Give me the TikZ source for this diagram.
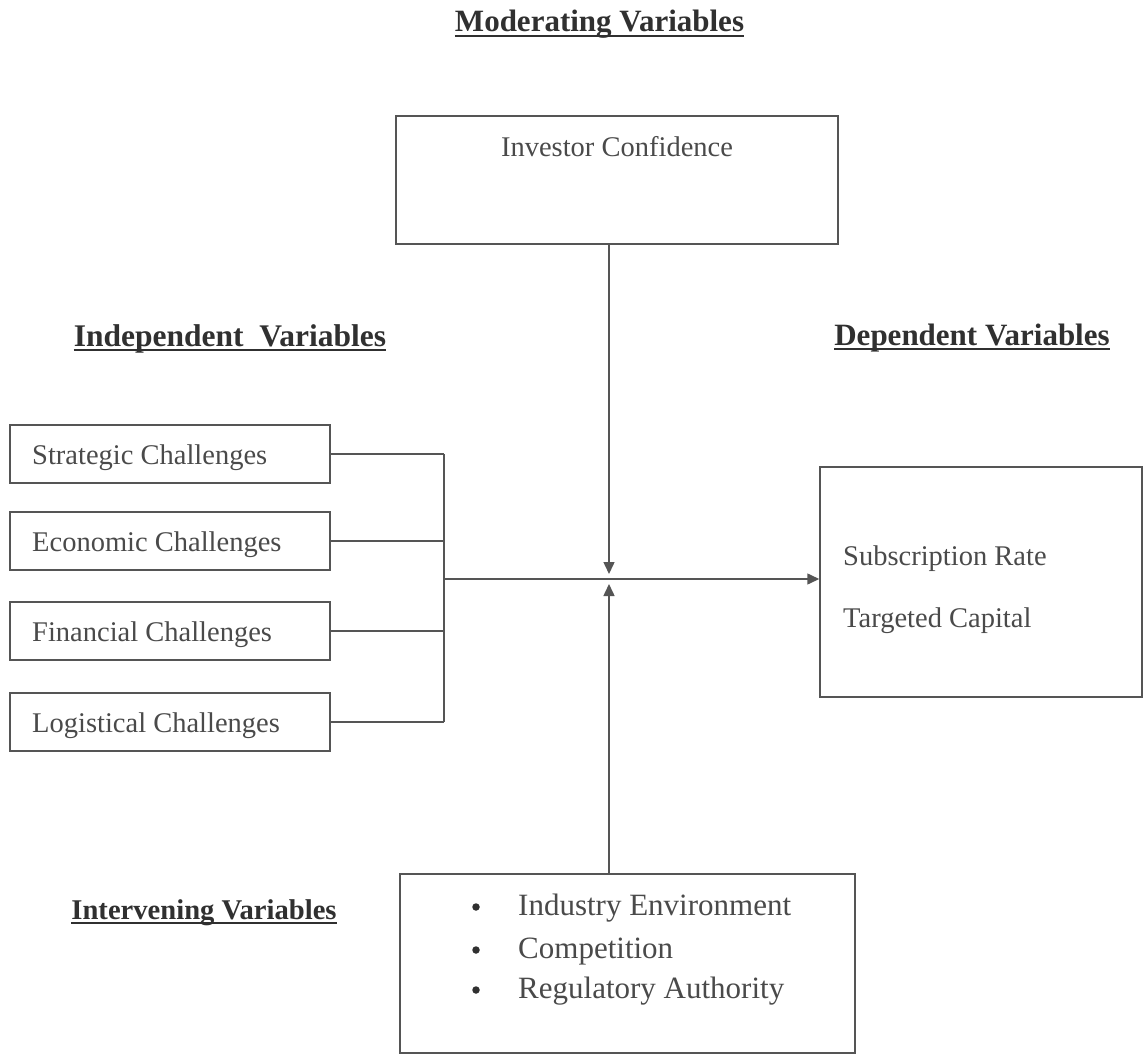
\documentclass[tikz,border=0pt]{standalone}
\usepackage{fontspec}
\setmainfont{Liberation Serif}
\usetikzlibrary{arrows.meta}
\definecolor{ink}{HTML}{4A4A4A}
\definecolor{lin}{HTML}{555555}
\definecolor{head}{HTML}{303030}
\begin{document}
\begin{tikzpicture}[x=1pt,y=-1pt,
  boxs/.style={draw=lin, line width=1.5pt, inner sep=0pt},
  txt/.style={text=ink, font=\fontsize{28.5}{34}\selectfont, inner sep=0pt, anchor=base west},
  btxt/.style={text=ink, font=\fontsize{31}{36}\selectfont, inner sep=0pt, anchor=base west},
  hd/.style={text=head, font=\bfseries\fontsize{31}{36}\selectfont, inner sep=0pt, anchor=base},
  ul/.style={draw=head, line width=1.4pt},
  dot/.style={circle, fill=head, inner sep=0pt, minimum size=7.5pt},
  conn/.style={draw=lin, line width=1.5pt},
  arr/.style={conn, -{Triangle[length=12pt,width=11pt]}}]
\useasboundingbox[fill=white] (0,0) rectangle (1145,1056);

% headings
\node[hd] (mv) at (599.5,32) {Moderating Variables};
\node[hd, font=\bfseries\fontsize{31.5}{36}\selectfont] (idv) at (230,346) {Independent\ \ Variables};
\node[hd] (dpv) at (972,345) {Dependent Variables};
\node[hd, font=\bfseries\fontsize{28.6}{34}\selectfont] (itv) at (204,919) {Intervening Variables};
\foreach \h in {mv,idv,dpv,itv}
  \draw[ul] ([yshift=-4pt]\h.base west) -- ([yshift=-4pt]\h.base east);

% moderating box
\node[boxs, minimum width=442pt, minimum height=128pt] (ic) at (617,180) {};
\node[txt, anchor=base] (ict) at (617,157) {Investor Confidence};

% independent boxes
\node[boxs, minimum width=320pt, minimum height=58pt] (sc) at (170,454) {};
\node[txt] (sct) at (32,464) {Strategic Challenges};
\node[boxs, minimum width=320pt, minimum height=58pt] (ec) at (170,541) {};
\node[txt] (ect) at (32,551) {Economic Challenges};
\node[boxs, minimum width=320pt, minimum height=58pt] (fc) at (170,631) {};
\node[txt] (fct) at (32,641) {Financial Challenges};
\node[boxs, minimum width=320pt, minimum height=58pt] (lc) at (170,722) {};
\node[txt] (lct) at (32,732) {Logistical Challenges};

% dependent box
\node[boxs, minimum width=322pt, minimum height=230pt] (dv) at (981,582) {};
\node[txt] (dvt1) at (843,565) {Subscription Rate};
\node[txt] (dvt2) at (843,627) {Targeted Capital};

% intervening box
\node[boxs, minimum width=455pt, minimum height=179pt] (iv) at (627.5,963.5) {};
\node[dot] (b1) at (476,907) {};
\node[btxt] (iv1) at (518,915) {Industry Environment};
\node[dot] (b2) at (476,950) {};
\node[btxt] (iv2) at (518,958) {Competition};
\node[dot] (b3) at (476,990) {};
\node[btxt] (iv3) at (518,998) {Regulatory Authority};

% connectors
\coordinate (jx) at (444,0);
\coordinate (j1) at (sc.east -| jx);
\coordinate (j4) at (lc.east -| jx);
\draw[conn] (sc.east) -- (j1);
\draw[conn] (ec.east) -- (ec.east -| jx);
\draw[conn] (fc.east) -- (fc.east -| jx);
\draw[conn] (lc.east) -- (j4);
\draw[conn] (j1) -- (j4);
\coordinate (hm) at (444,579);
\draw[arr] (hm) -- (dv.west |- hm);
\coordinate (cdown) at (609,574);
\coordinate (cup) at (609,584);
\draw[arr] (cdown |- ic.south) -- (cdown);
\draw[arr] (cup |- iv.north) -- (cup);
\end{tikzpicture}
\end{document}
